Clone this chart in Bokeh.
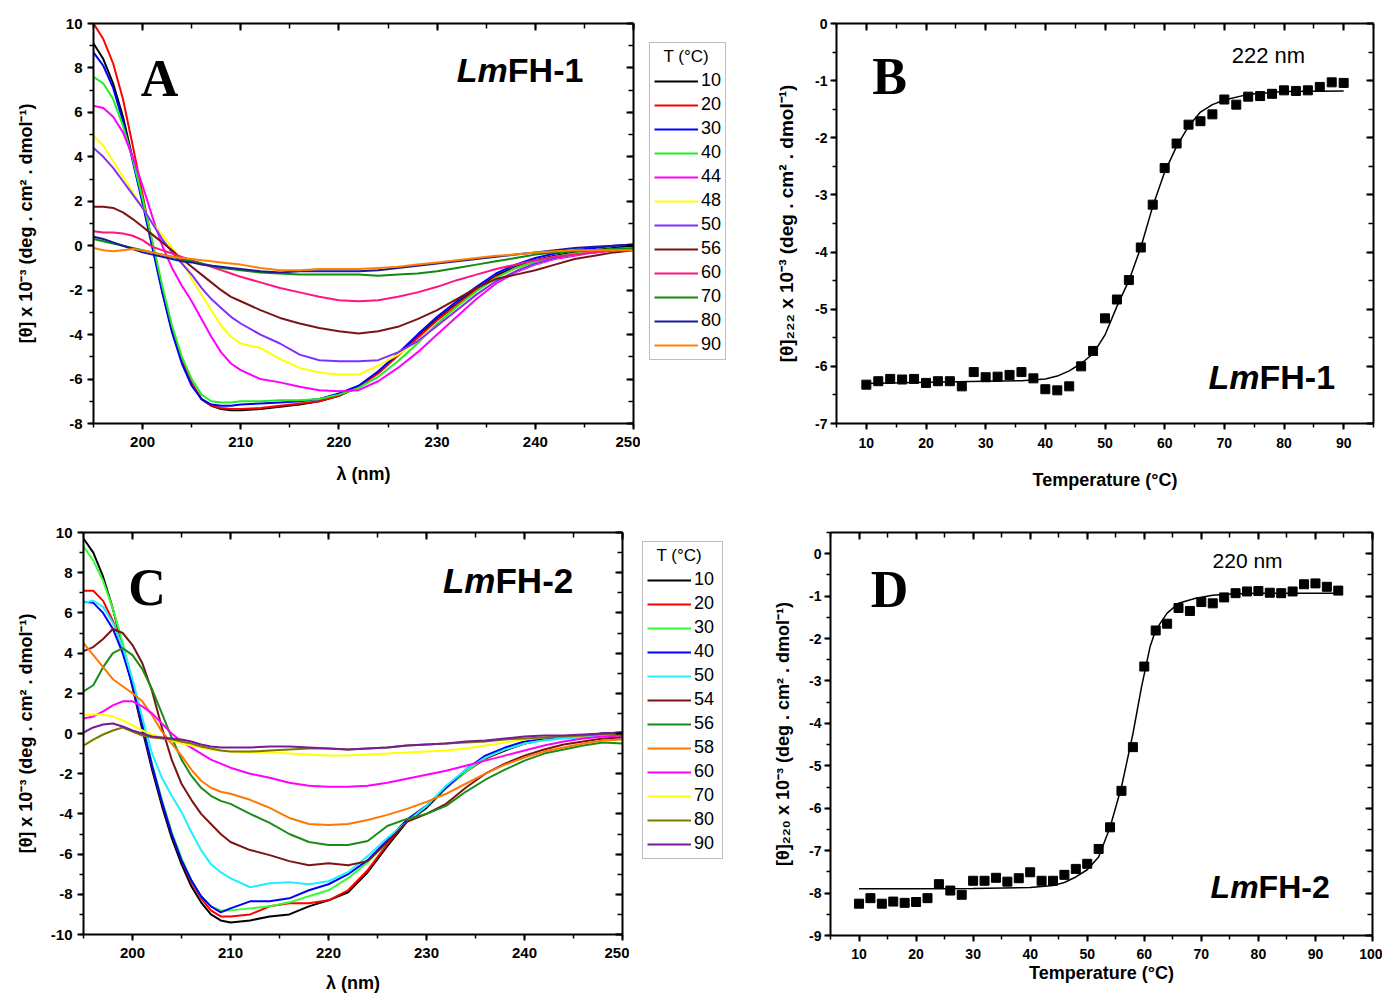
from bokeh.plotting import figure
from bokeh.models import (Range1d, LinearAxis, SingleIntervalTicker, Legend, LegendItem, Label,
                          PrintfTickFormatter)
from bokeh.layouts import column, row
from bokeh.embed import file_html
from bokeh.resources import INLINE

# ---------------- data ----------------
WL = [195, 196, 197, 198, 199, 200, 201, 202, 203, 204, 205, 206, 207, 208, 209, 210,
      212, 214, 216, 218, 220, 222, 224, 226, 228, 230, 232, 234, 236, 238, 240, 242, 244, 246, 248, 250]

# Panel A  (LmFH-1 spectra)
A_TEMPS = ["10", "20", "30", "40", "44", "48", "50", "56", "60", "70", "80", "90"]
A_COLORS = ["#000000", "#ff0000", "#0000ff", "#22ee22", "#ff00ff", "#ffff00",
            "#7f2fff", "#7b1515", "#ff1480", "#108a10", "#1a1a9a", "#ff8000"]
a10 = [9.1, 8.4, 7.3, 5.8, 3.9, 2.0, 0.0, -2.0, -3.8, -5.2, -6.2, -6.9, -7.2, -7.35, -7.4, -7.4,
       -7.35, -7.25, -7.15, -7.0, -6.75, -6.35, -5.7, -4.9, -4.1, -3.3, -2.6, -1.95, -1.35, -0.95, -0.65, -0.45, -0.3, -0.2, -0.1, 0.0]
a20 = [10.0, 9.3, 8.2, 6.6, 4.5, 2.3, 0.1, -2.0, -3.8, -5.2, -6.2, -6.9, -7.2, -7.3, -7.35, -7.35,
       -7.3, -7.2, -7.1, -7.0, -6.75, -6.35, -5.75, -4.95, -4.15, -3.35, -2.65, -2.0, -1.4, -1.0, -0.7, -0.5, -0.35, -0.25, -0.15, -0.1]
a30 = [8.7, 8.1, 7.1, 5.6, 3.8, 1.9, -0.1, -2.1, -3.9, -5.3, -6.3, -6.9, -7.15, -7.2, -7.2, -7.15,
       -7.1, -7.05, -7.0, -6.9, -6.65, -6.3, -5.65, -4.85, -4.0, -3.2, -2.5, -1.85, -1.25, -0.85, -0.55, -0.35, -0.2, -0.1, 0.0, 0.05]
a40 = [7.6, 7.3, 6.6, 5.4, 3.9, 2.1, 0.2, -1.8, -3.6, -5.0, -6.0, -6.7, -7.0, -7.05, -7.05, -7.0,
       -7.0, -6.95, -6.95, -6.9, -6.7, -6.4, -5.9, -5.2, -4.4, -3.5, -2.75, -2.05, -1.45, -1.0, -0.7, -0.5, -0.35, -0.25, -0.15, -0.1]
a44 = [6.3, 6.2, 5.8, 5.1, 4.0, 2.7, 1.3, 0.0, -1.0, -1.8, -2.5, -3.3, -4.1, -4.8, -5.3, -5.6,
       -6.0, -6.15, -6.35, -6.5, -6.55, -6.5, -6.1, -5.5, -4.8, -4.0, -3.2, -2.4, -1.7, -1.2, -0.85, -0.6, -0.45, -0.3, -0.2, -0.1]
a48 = [4.95, 4.5, 3.8, 3.1, 2.4, 1.7, 1.0, 0.5, -0.1, -0.7, -1.5, -2.2, -2.9, -3.6, -4.1, -4.4,
       -4.6, -5.1, -5.5, -5.7, -5.8, -5.8, -5.4, -4.9, -4.3, -3.6, -2.9, -2.2, -1.6, -1.15, -0.8, -0.55, -0.4, -0.3, -0.2, -0.15]
a50 = [4.4, 4.0, 3.5, 2.9, 2.3, 1.7, 1.0, 0.3, -0.3, -0.8, -1.3, -1.9, -2.4, -2.8, -3.2, -3.5,
       -4.0, -4.4, -4.9, -5.15, -5.2, -5.2, -5.15, -4.8, -4.3, -3.6, -2.9, -2.2, -1.6, -1.15, -0.8, -0.55, -0.4, -0.3, -0.2, -0.15]
a56 = [1.75, 1.75, 1.7, 1.5, 1.2, 0.85, 0.5, 0.15, -0.2, -0.6, -0.95, -1.3, -1.65, -2.0, -2.3, -2.5,
       -2.9, -3.25, -3.5, -3.7, -3.85, -3.95, -3.85, -3.65, -3.3, -2.9, -2.4, -1.9, -1.5, -1.3, -1.1, -0.85, -0.6, -0.45, -0.3, -0.2]
a60 = [0.65, 0.6, 0.6, 0.55, 0.45, 0.25, -0.05, -0.2, -0.35, -0.5, -0.65, -0.8, -0.95, -1.1, -1.25, -1.4,
       -1.65, -1.9, -2.1, -2.3, -2.45, -2.5, -2.45, -2.3, -2.1, -1.85, -1.55, -1.3, -1.05, -0.85, -0.65, -0.5, -0.4, -0.3, -0.2, -0.15]
a70 = [0.3, 0.2, 0.1, 0.0, -0.1, -0.2, -0.3, -0.4, -0.5, -0.6, -0.7, -0.8, -0.9, -1.0, -1.05, -1.1,
       -1.2, -1.25, -1.3, -1.3, -1.3, -1.3, -1.35, -1.3, -1.25, -1.15, -1.0, -0.85, -0.7, -0.55, -0.4, -0.3, -0.25, -0.2, -0.15, -0.15]
a80 = [0.4, 0.3, 0.15, 0.0, -0.15, -0.3, -0.4, -0.5, -0.6, -0.7, -0.75, -0.85, -0.9, -0.95, -1.0, -1.05,
       -1.15, -1.2, -1.15, -1.15, -1.15, -1.15, -1.1, -1.0, -0.9, -0.8, -0.7, -0.6, -0.5, -0.4, -0.3, -0.2, -0.1, -0.05, 0.0, 0.05]
a90 = [-0.1, -0.2, -0.25, -0.2, -0.15, -0.2, -0.3, -0.4, -0.5, -0.55, -0.6, -0.65, -0.7, -0.75, -0.8, -0.85,
       -1.0, -1.1, -1.1, -1.05, -1.05, -1.05, -1.0, -0.95, -0.85, -0.75, -0.65, -0.55, -0.45, -0.4, -0.3, -0.25, -0.2, -0.2, -0.2, -0.2]
A_SERIES = [a10, a20, a30, a40, a44, a48, a50, a56, a60, a70, a80, a90]

# Panel C  (LmFH-2 spectra)
C_TEMPS = ["10", "20", "30", "40", "50", "54", "56", "58", "60", "70", "80", "90"]
C_COLORS = ["#000000", "#ff0000", "#33ff33", "#0000ff", "#22eeff", "#7b1515",
            "#1a8c1a", "#ff7700", "#ff00ff", "#ffff00", "#7a7a00", "#7a1a9a"]
c10 = [9.7, 9.0, 7.8, 6.2, 4.3, 2.3, 0.2, -1.8, -3.6, -5.2, -6.5, -7.6, -8.4, -9.0, -9.3, -9.4,
       -9.3, -9.1, -9.0, -8.6, -8.3, -7.9, -6.9, -5.6, -4.4, -3.7, -2.7, -1.9, -1.25, -0.85, -0.5, -0.3, -0.2, -0.1, 0.0, 0.05]
c20 = [7.1, 7.1, 6.6, 5.6, 4.2, 2.4, 0.4, -1.6, -3.4, -5.0, -6.3, -7.4, -8.2, -8.8, -9.1, -9.1,
       -9.0, -8.6, -8.45, -8.45, -8.3, -7.8, -6.8, -5.5, -4.3, -3.6, -2.7, -1.9, -1.25, -0.8, -0.5, -0.3, -0.2, -0.15, -0.1, -0.1]
c30 = [9.3, 8.6, 7.6, 6.2, 4.5, 2.6, 0.5, -1.5, -3.3, -4.9, -6.2, -7.3, -8.1, -8.6, -8.8, -8.8,
       -8.7, -8.6, -8.4, -8.1, -7.8, -7.2, -6.4, -5.4, -4.3, -3.6, -2.7, -1.9, -1.2, -0.75, -0.45, -0.3, -0.2, -0.1, 0.0, 0.0]
c40 = [6.55, 6.5, 6.0, 5.2, 4.0, 2.4, 0.4, -1.6, -3.4, -5.0, -6.3, -7.3, -8.1, -8.6, -8.9, -8.7,
       -8.35, -8.35, -8.2, -7.8, -7.5, -7.0, -6.3, -5.3, -4.3, -3.6, -2.7, -1.8, -1.1, -0.7, -0.4, -0.25, -0.15, -0.1, 0.0, 0.05]
c50 = [6.5, 6.6, 6.3, 5.5, 4.3, 2.7, 0.8, -1.0, -2.2, -3.1, -3.9, -4.9, -5.8, -6.5, -6.9, -7.2,
       -7.65, -7.45, -7.4, -7.5, -7.35, -6.9, -6.1, -5.2, -4.4, -3.6, -2.6, -1.8, -1.2, -0.8, -0.5, -0.35, -0.25, -0.2, -0.1, -0.05]
c54 = [4.1, 4.3, 4.7, 5.2, 5.0, 4.4, 3.5, 2.1, 0.3, -1.3, -2.5, -3.3, -4.0, -4.5, -5.0, -5.4,
       -5.8, -6.05, -6.35, -6.55, -6.45, -6.55, -6.35, -5.4, -4.4, -4.0, -3.5, -2.7, -2.0, -1.5, -1.1, -0.8, -0.55, -0.4, -0.25, -0.2]
c56 = [2.1, 2.4, 3.3, 4.0, 4.25, 3.9, 3.2, 2.2, 1.0, -0.2, -1.3, -2.1, -2.7, -3.1, -3.35, -3.5,
       -4.0, -4.45, -5.0, -5.4, -5.55, -5.55, -5.35, -4.6, -4.25, -4.0, -3.6, -2.9, -2.3, -1.8, -1.35, -1.0, -0.8, -0.6, -0.45, -0.5]
c58 = [4.5, 3.9, 3.3, 2.7, 2.35, 2.0, 1.6, 0.9, 0.1, -0.5, -1.1, -1.8, -2.35, -2.7, -2.9, -3.0,
       -3.3, -3.7, -4.2, -4.5, -4.55, -4.5, -4.3, -4.05, -3.75, -3.4, -3.0, -2.5, -2.0, -1.55, -1.2, -0.9, -0.7, -0.5, -0.35, -0.3]
c60 = [0.75, 0.85, 1.1, 1.4, 1.6, 1.6, 1.35, 1.0, 0.5, 0.0, -0.4, -0.7, -1.0, -1.3, -1.5, -1.7,
       -2.0, -2.2, -2.45, -2.6, -2.65, -2.65, -2.6, -2.45, -2.25, -2.05, -1.85, -1.6, -1.35, -1.1, -0.85, -0.6, -0.4, -0.25, -0.15, -0.1]
c70 = [0.9, 0.95, 0.95, 0.85, 0.65, 0.4, 0.15, -0.05, -0.2, -0.35, -0.5, -0.6, -0.7, -0.8, -0.85, -0.9,
       -0.95, -0.95, -1.0, -1.05, -1.1, -1.1, -1.05, -1.0, -0.95, -0.9, -0.85, -0.75, -0.6, -0.45, -0.3, -0.2, -0.15, -0.1, -0.05, 0.0]
c80 = [-0.6, -0.3, -0.05, 0.15, 0.3, 0.1, -0.1, -0.2, -0.25, -0.3, -0.4, -0.5, -0.65, -0.75, -0.85, -0.9,
       -0.9, -0.85, -0.8, -0.75, -0.75, -0.8, -0.75, -0.7, -0.6, -0.55, -0.5, -0.45, -0.4, -0.3, -0.25, -0.2, -0.15, -0.1, -0.05, -0.05]
c90 = [0.05, 0.3, 0.45, 0.5, 0.35, 0.15, 0.0, -0.15, -0.2, -0.25, -0.3, -0.4, -0.55, -0.65, -0.7, -0.7,
       -0.7, -0.65, -0.65, -0.7, -0.75, -0.8, -0.75, -0.7, -0.6, -0.55, -0.5, -0.4, -0.35, -0.25, -0.15, -0.1, -0.1, -0.05, 0.0, 0.05]
C_SERIES = [c10, c20, c30, c40, c50, c54, c56, c58, c60, c70, c80, c90]

# Panel B  (LmFH-1 melting at 222 nm)
b_T = [10, 12, 14, 16, 18, 20, 22, 24, 26, 28, 30, 32, 34, 36, 38, 40, 42, 44,
       46, 48, 50, 52, 54, 56, 58, 60, 62, 64, 66, 68, 70, 72, 74, 76, 78, 80, 82, 84, 86, 88, 90]
b_theta = [-6.32, -6.26, -6.22, -6.23, -6.22, -6.29, -6.26, -6.26, -6.35, -6.10, -6.19, -6.18, -6.15, -6.10, -6.21, -6.40, -6.42, -6.35,
           -6.00, -5.73, -5.16, -4.83, -4.49, -3.92, -3.17, -2.53, -2.10, -1.77, -1.71, -1.59, -1.33, -1.42, -1.28, -1.27, -1.23, -1.17, -1.18, -1.17, -1.11, -1.03, -1.04]
b_fit_T = [10, 20, 30, 36, 40, 42, 44, 46, 48, 50, 52, 54, 56, 58, 60, 62, 64, 66, 68, 70, 74, 80, 90]
b_fit = [-6.30, -6.28, -6.26, -6.25, -6.22, -6.17, -6.08, -5.95, -5.78, -5.45, -4.95, -4.50, -3.92, -3.20, -2.60, -2.15, -1.80, -1.55, -1.42, -1.34, -1.24, -1.19, -1.18]

# Panel D  (LmFH-2 melting at 220 nm)
d_T = [10, 12, 14, 16, 18, 20, 22, 24, 26, 28, 30, 32, 34, 36, 38, 40, 42, 44, 46, 48,
       50, 52, 54, 56, 58, 60, 62, 64, 66, 68, 70, 72, 74, 76, 78, 80, 82, 84, 86, 88, 90, 92, 94]
d_theta = [-8.25, -8.12, -8.25, -8.20, -8.23, -8.21, -8.12, -7.79, -7.94, -8.04, -7.71, -7.71, -7.64, -7.73, -7.65, -7.51, -7.71, -7.71, -7.57, -7.43,
           -7.31, -6.96, -6.45, -5.59, -4.56, -2.66, -1.81, -1.65, -1.28, -1.35, -1.14, -1.17, -1.03, -0.93, -0.89, -0.88, -0.92, -0.93, -0.89, -0.72, -0.70, -0.78, -0.87]
d_fit_T = [10, 20, 30, 40, 44, 46, 48, 50, 52, 54, 56, 58, 59.5, 61, 62, 64, 66, 69, 72, 75, 80, 94]
d_fit = [-7.90, -7.90, -7.89, -7.87, -7.82, -7.75, -7.62, -7.45, -7.15, -6.45, -5.50, -4.25, -3.15, -2.20, -1.80, -1.40, -1.17, -1.05, -0.98, -0.95, -0.93, -0.93]

FONT = "Liberation Sans"
YLAB_SPEC = "[\u03b8] x 10\u207b\u00b3 (deg . cm\u00b2 . dmol\u207b\u00b9)"
YLAB_B = "[\u03b8]\u2082\u2082\u2082 x 10\u207b\u00b3 (deg . cm\u00b2 . dmol\u207b\u00b9)"
YLAB_D = "[\u03b8]\u2082\u2082\u2080 x 10\u207b\u00b3 (deg . cm\u00b2 . dmol\u207b\u00b9)"


def make_fig(fw, fh, l, r, t, b, xr, yr):
    p = figure(frame_width=fw, frame_height=fh, min_border_left=l, min_border_right=r,
               min_border_top=t, min_border_bottom=b, x_range=Range1d(*xr), y_range=Range1d(*yr),
               output_backend="svg", toolbar_location=None, tools="")
    p.grid.visible = False
    p.outline_line_color = None
    return p


def style_main(ax, interval, tick_size, tick_standoff, label, label_size, label_standoff):
    ax.ticker = SingleIntervalTicker(interval=interval, num_minor_ticks=2)
    ax.formatter = PrintfTickFormatter(format="%d")
    ax.axis_line_width = 2
    ax.axis_line_color = "black"
    ax.major_tick_line_width = 2
    ax.minor_tick_line_width = 1.5
    ax.major_tick_out = 6
    ax.major_tick_in = 0
    ax.minor_tick_out = 4
    ax.minor_tick_in = 0
    ax.major_label_text_font = FONT
    ax.major_label_text_font_style = "bold"
    ax.major_label_text_font_size = tick_size
    ax.major_label_text_color = "black"
    ax.major_label_standoff = tick_standoff
    ax.axis_label = label
    ax.axis_label_text_font = FONT
    ax.axis_label_text_font_style = "bold"
    ax.axis_label_text_font_size = label_size
    ax.axis_label_text_color = "black"
    ax.axis_label_standoff = label_standoff


def add_mirror(p, interval, side):
    ax = LinearAxis(ticker=SingleIntervalTicker(interval=interval, num_minor_ticks=2))
    ax.axis_line_width = 2
    ax.major_tick_line_width = 2
    ax.minor_tick_line_width = 1.5
    ax.major_tick_in = 7
    ax.major_tick_out = 0
    ax.minor_tick_in = 5
    ax.minor_tick_out = 0
    ax.major_label_text_font_size = "1px"
    ax.major_label_text_color = None
    ax.major_label_standoff = 0
    p.add_layout(ax, side)


def add_text(p, x, y, text, size, style="bold", align="left", font=FONT):
    p.add_layout(Label(x=x, y=y, text=text, text_font=font, text_font_size=size,
                       text_font_style=style, text_align=align, text_baseline="middle",
                       text_color="black"))


def legend_fig(l, r, t, b, fw, fh, loc, series, colors, labels, lab_w):
    """Separate borderless figure that only hosts the temperature legend box."""
    q = figure(frame_width=fw, frame_height=fh, min_border_left=l, min_border_right=r,
               min_border_top=t, min_border_bottom=b, x_range=Range1d(0, 1), y_range=Range1d(0, 1),
               x_axis_type=None, y_axis_type=None, output_backend="svg", toolbar_location=None, tools="")
    q.grid.visible = False
    q.outline_line_color = None
    rends = [q.line(WL, s, line_color=c, line_width=2, visible=False) for s, c in zip(series, colors)]
    items = [LegendItem(label=lab, renderers=[r]) for lab, r in zip(labels, rends)]
    leg = Legend(items=items, location=loc, title="\u00a0\u00a0T (\u00b0C)", margin=0, padding=4,
                 spacing=3, glyph_width=44, glyph_height=20, label_height=20, label_width=lab_w,
                 label_standoff=3, label_text_font=FONT, label_text_font_size="18px",
                 label_text_color="black", title_text_color="black",
                 title_text_font=FONT, title_text_font_size="17px", title_text_font_style="normal",
                 title_standoff=3, border_line_color="#808080", border_line_width=1,
                 background_fill_color="white", background_fill_alpha=1.0,
                 inactive_fill_alpha=0.0, click_policy="none")
    q.add_layout(leg)
    return q


# ---------------- Panel A ----------------
pA = make_fig(540, 400, 93, 7, 23, 75, (195, 250), (-8, 10))
style_main(pA.xaxis[0], 10, "15px", 7, "\u03bb (nm)", "18px", 14)
style_main(pA.yaxis[0], 2, "15px", 5, YLAB_SPEC, "18px", 27)
add_mirror(pA, 10, "above")
add_mirror(pA, 2, "right")
for s, c in zip(A_SERIES, A_COLORS):
    pA.line(WL, s, line_color=c, line_width=2)
add_text(pA, 201.72, 7.525, "A", "52px", align="center", font="Liberation Serif")
add_text(pA, 237.2, 7.91, "Lm", "34px", style="bold italic", align="right")
add_text(pA, 237.2, 7.91, "FH-1", "34px")
legA = legend_fig(9, 4, 23, 75, 100, 400, (0, 63), A_SERIES, A_COLORS, A_TEMPS, 20)

# ---------------- Panel B ----------------
pB = make_fig(537, 400, 83, 10, 23, 75, (5, 95), (-7, 0))
style_main(pB.xaxis[0], 10, "14px", 8, "Temperature (\u00b0C)", "18px", 19)
style_main(pB.yaxis[0], 1, "14px", 3, YLAB_B, "19px", 15)
add_mirror(pB, 10, "above")
add_mirror(pB, 1, "right")
pB.line(b_fit_T, b_fit, line_color="black", line_width=1.5)
pB.scatter(b_T, b_theta, marker="square", size=9, color="black")
add_text(pB, 13.88, -0.919, "B", "52px", align="center", font="Liberation Serif")
add_text(pB, 77.4, -0.56, "222 nm", "22px", style="normal", align="center")
add_text(pB, 75.9, -6.19, "Lm", "34px", style="bold italic", align="right")
add_text(pB, 75.9, -6.19, "FH-1", "34px")

# ---------------- Panel C ----------------
pC = make_fig(539, 402, 83, 7, 34, 58, (195, 250), (-10, 10))
style_main(pC.xaxis[0], 10, "15px", 7, "\u03bb (nm)", "18px", 12)
style_main(pC.yaxis[0], 2, "15px", 5, YLAB_SPEC, "18px", 12)
add_mirror(pC, 10, "above")
add_mirror(pC, 2, "right")
for s, c in zip(C_SERIES, C_COLORS):
    pC.line(WL, s, line_color=c, line_width=2)
add_text(pC, 201.48, 7.24, "C", "52px", align="center", font="Liberation Serif")
add_text(pC, 237.04, 7.61, "Lm", "35px", style="bold italic", align="right")
add_text(pC, 237.04, 7.61, "FH-2", "35px")
legC = legend_fig(13, 11, 34, 58, 100, 402, (0, 75), C_SERIES, C_COLORS, C_TEMPS, 24)

# ---------------- Panel D ----------------
pD = make_fig(542, 403, 77, 10, 34, 58, (5, 100), (-9, 0.5))
style_main(pD.xaxis[0], 10, "14px", 7, "Temperature (\u00b0C)", "18px", 1)
style_main(pD.yaxis[0], 1, "14px", 3, YLAB_D, "18px", 13)
add_mirror(pD, 10, "above")
add_mirror(pD, 1, "right")
pD.line(d_fit_T, d_fit, line_color="black", line_width=1.5)
pD.scatter(d_T, d_theta, marker="square", size=9, color="black")
add_text(pD, 15.34, -0.834, "D", "52px", align="center", font="Liberation Serif")
add_text(pD, 78.1, -0.153, "220 nm", "21px", style="normal", align="center")
add_text(pD, 80.04, -7.85, "Lm", "32px", style="bold italic", align="right")
add_text(pD, 80.04, -7.85, "FH-2", "32px")

layout = column(row(pA, legA, pB), row(pC, legC, pD))
open("out.html", "w").write(file_html(layout, INLINE))
